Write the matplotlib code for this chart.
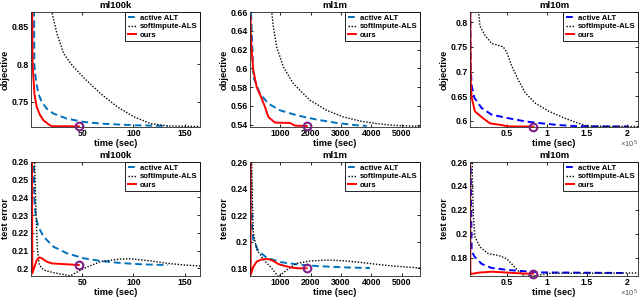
import matplotlib

matplotlib.use("Agg")

import matplotlib.pyplot as plt
from matplotlib.ticker import FuncFormatter

# ---- ml100k objective
ml100k_obj_t_alt = [2.9, 3.3, 5.0, 7.2, 10.5, 15.4, 22, 35.1, 51.5, 67.9, 100.7, 133.5]
ml100k_obj_alt = [0.90, 0.799, 0.777, 0.761, 0.750, 0.741, 0.7345, 0.7278, 0.7234, 0.7212, 0.719, 0.7181]
ml100k_obj_t_soft = [19, 20.3, 25.3, 31.8, 40, 51.5, 68, 84.3, 100.7, 117, 133.5, 166]
ml100k_obj_soft = [0.88, 0.87, 0.841, 0.8145, 0.799, 0.7823, 0.761, 0.7434, 0.7301, 0.7212, 0.7181, 0.7172]
ml100k_obj_t_ours = [0.98, 1.64, 3.3, 5.6, 8.9, 12.2, 17.1, 20.3, 46.6]
ml100k_obj_ours = [0.90, 0.799, 0.761, 0.7434, 0.7323, 0.7256, 0.7203, 0.7177, 0.7176]

# ---- ml1m objective
ml1m_obj_t_alt = [22, 110, 329, 604, 988, 1537, 2196, 2855, 3514, 3844]
ml1m_obj_alt = [0.67, 0.5907, 0.5729, 0.5623, 0.5552, 0.5499, 0.5453, 0.5417, 0.5392, 0.5385]
ml1m_obj_t_soft = [700, 769, 879, 1098, 1427, 1977, 2526, 3075, 3624, 4173, 4722, 5600]
ml1m_obj_soft = [0.665, 0.644, 0.6227, 0.6014, 0.5836, 0.5659, 0.5552, 0.5481, 0.5438, 0.541, 0.5392, 0.5381]
ml1m_obj_t_ours = [20, 22, 55, 110, 220, 385, 494, 604, 823, 1318, 1482, 1867]
ml1m_obj_ours = [0.655, 0.637, 0.619, 0.5977, 0.580, 0.5677, 0.5588, 0.5481, 0.5421, 0.5417, 0.5388, 0.5385]

# ---- ml10m objective
ml10m_obj_t_alt = [4000, 4800, 6100, 9400, 18600, 31100, 52000, 73000, 93600, 115000, 135000, 156000, 202000]
ml10m_obj_alt = [0.90, 0.709, 0.671, 0.647, 0.626, 0.6125, 0.6054, 0.599, 0.595, 0.5915, 0.5895, 0.5888, 0.5885]
ml10m_obj_t_soft = [13000, 16500, 22500, 31000, 39400, 45600, 50000, 56000, 65000, 73000, 85500,
                    102000, 123000, 140000, 150000, 214000]
ml10m_obj_soft = [0.85, 0.792, 0.774, 0.757, 0.753, 0.750, 0.739, 0.712, 0.681, 0.657, 0.636,
                  0.620, 0.605, 0.595, 0.5895, 0.5885]
ml10m_obj_t_ours = [4000, 5000, 6100, 10250, 20600, 29000, 43600, 52000, 83000]
ml10m_obj_ours = [0.90, 0.675, 0.647, 0.619, 0.605, 0.595, 0.5915, 0.5888, 0.5885]

# ---- ml100k test error
ml100k_err_t_alt = [2.3, 3.3, 4.6, 7.2, 12.2, 22, 35.1, 51.5, 67.9, 84.3, 100.7, 117, 133.5]
ml100k_err_alt = [0.27, 0.2389, 0.2292, 0.2235, 0.2179, 0.2122, 0.2085, 0.2057, 0.2042, 0.2032, 0.2025, 0.2021, 0.2019]
ml100k_err_t_soft = [3.0, 5.0, 6.3, 8.2, 12.2, 22, 38.4, 51.5, 67.9, 84.3, 95.7, 117, 133.5, 150, 166]
ml100k_err_soft = [0.27, 0.2292, 0.2104, 0.2019, 0.1991, 0.1976, 0.1958, 0.200, 0.2038, 0.2051, 0.2055,
                   0.2042, 0.2028, 0.2019, 0.2013]
ml100k_err_t_ours = [0.98, 1.3, 5.6, 8.2, 10.5, 15.4, 20.3, 35.1, 46.6]
ml100k_err_ours = [0.27, 0.1972, 0.2047, 0.2062, 0.2057, 0.2038, 0.2028, 0.2023, 0.2019]

# ---- ml1m test error
ml1m_err_t_alt = [33, 44, 66, 110, 275, 549, 988, 1537, 2196, 3075, 3953]
ml1m_err_alt = [0.27, 0.2317, 0.2117, 0.2017, 0.193, 0.188, 0.1847, 0.183, 0.1817, 0.1807, 0.1802]
ml1m_err_t_soft = [50, 77, 110, 220, 440, 714, 933, 1208, 1537, 1977, 2526, 3075, 3624, 4173, 4722, 5600]
ml1m_err_soft = [0.27, 0.2317, 0.2067, 0.1942, 0.1867, 0.180, 0.1737, 0.1787, 0.1837, 0.1855, 0.1862,
                 0.1857, 0.1845, 0.183, 0.1817, 0.1802]
ml1m_err_t_ours = [20, 22, 110, 220, 385, 604, 769, 933, 1153, 1373, 1592, 1867]
ml1m_err_ours = [0.27, 0.175, 0.1812, 0.1850, 0.1867, 0.1870, 0.1855, 0.1832, 0.1817, 0.1805, 0.180, 0.180]

# ---- ml10m test error
ml10m_err_t_alt = [4000, 6100, 9400, 18600, 31000, 52000, 73000, 93600, 200000]
ml10m_err_alt = [0.30, 0.1861, 0.1811, 0.1749, 0.1715, 0.1698, 0.1687, 0.1678, 0.1673]
ml10m_err_t_soft = [6000, 7100, 8200, 10250, 16500, 27000, 39400, 50000, 58000, 66000, 73000, 85000, 102000, 214000]
ml10m_err_soft = [0.30, 0.2423, 0.2143, 0.1974, 0.189, 0.1834, 0.182, 0.1792, 0.1736, 0.1679, 0.1645,
                  0.1650, 0.167, 0.1673]
ml10m_err_t_ours = [4000, 4500, 5000, 8200, 14500, 31000, 52000, 72500, 83000]
ml10m_err_ours = [0.30, 0.168, 0.1665, 0.1668, 0.1676, 0.1684, 0.1676, 0.1668, 0.1668]

LABELS = ["active ALT", "softImpute-ALS", "ours"]
MATLAB_BLUE = "#0072BD"
PURPLE = "#7E1E86"

plt.rcParams["font.family"] = ["Liberation Sans", "DejaVu Sans"]
plt.rcParams["font.weight"] = "bold"
plt.rcParams["axes.labelweight"] = "bold"
plt.rcParams["axes.titleweight"] = "bold"
plt.rcParams["mathtext.default"] = "regular"

W, H = 640, 299
fig = plt.figure(figsize=(W / 100, H / 100), dpi=100)


def _axes(left, top, right, bottom):
    return fig.add_axes([left / W, 1 - bottom / H, (right - left) / W, (bottom - top) / H])


def _fmt(x, _pos):
    return f"{x:g}"


def _draw(ax, series, alt_color, title, ylabel, xlim, ylim, xticks, yticks, scale=1.0):
    (t_alt, v_alt), (t_soft, v_soft), (t_ours, v_ours) = series
    ax.plot(t_alt, v_alt, color=alt_color, lw=1.4, dashes=(3.5, 2.0), label=LABELS[0])
    ax.plot(t_soft, v_soft, color="black", lw=1.0, ls=(0, (1, 1.2)), label=LABELS[1])
    ax.plot(t_ours, v_ours, color="red", lw=1.4, label=LABELS[2])
    ax.plot(t_ours[-1], v_ours[-1], "o", mfc="none", mec=PURPLE, ms=5.5, mew=1.5, clip_on=False, zorder=5)
    ax.set_xlim(*xlim)
    ax.set_ylim(*ylim)
    ax.set_xticks(xticks)
    ax.set_yticks(yticks)
    ax.xaxis.set_major_formatter(FuncFormatter(lambda x, p: f"{x / scale:g}"))
    ax.yaxis.set_major_formatter(FuncFormatter(_fmt))
    ax.tick_params(direction="in", length=2.5, width=0.6, top=True, right=True, labelsize=6.3, pad=1.5)
    for sp in ax.spines.values():
        sp.set_linewidth(0.6)
        sp.set_color("#262626")
    ax.set_title(title, fontsize=6.8, pad=3)
    ax.set_xlabel("time (sec)", fontsize=6.7, labelpad=0.5)
    ax.set_ylabel(ylabel, fontsize=6.7, labelpad=1.5)
    leg = ax.legend(loc="upper right", borderaxespad=0, fontsize=5.6, fancybox=False, framealpha=1,
                    edgecolor="black", handlelength=1.1, handletextpad=0.5, labelspacing=0.15,
                    borderpad=0.3)
    leg.get_frame().set_linewidth(0.6)
    if scale != 1.0:
        ax.text(1.0, -0.1, r"$\times10^{5}$", transform=ax.transAxes, ha="right", va="top",
                fontsize=5.5, color="#555555", fontweight="normal")


cols = [(31, 200), (250, 420), (470, 638)]
rows = [(12, 127), (162, 276)]

ax = _axes(cols[0][0], rows[0][0], cols[0][1], rows[0][1])
_draw(ax, [(ml100k_obj_t_alt, ml100k_obj_alt), (ml100k_obj_t_soft, ml100k_obj_soft),
           (ml100k_obj_t_ours, ml100k_obj_ours)], MATLAB_BLUE, "ml100k", "objective",
      (0, 165), (0.7167, 0.8696), [50, 100, 150], [0.75, 0.8, 0.85])

ax = _axes(cols[1][0], rows[0][0], cols[1][1], rows[0][1])
_draw(ax, [(ml1m_obj_t_alt, ml1m_obj_alt), (ml1m_obj_t_soft, ml1m_obj_soft),
           (ml1m_obj_t_ours, ml1m_obj_ours)], MATLAB_BLUE, "ml1m", "objective",
      (0, 5600), (0.5374, 0.66), [1000, 2000, 3000, 4000, 5000], [0.54, 0.56, 0.58, 0.6, 0.62, 0.64, 0.66])

ax = _axes(cols[2][0], rows[0][0], cols[2][1], rows[0][1])
_draw(ax, [(ml10m_obj_t_alt, ml10m_obj_alt), (ml10m_obj_t_soft, ml10m_obj_soft),
           (ml10m_obj_t_ours, ml10m_obj_ours)], "blue", "ml10m", "objective",
      (4000, 214000), (0.5876, 0.8207), [50000, 100000, 150000, 200000], [0.6, 0.65, 0.7, 0.75, 0.8],
      scale=1e5)

ax = _axes(cols[0][0], rows[1][0], cols[0][1], rows[1][1])
_draw(ax, [(ml100k_err_t_alt, ml100k_err_alt), (ml100k_err_t_soft, ml100k_err_soft),
           (ml100k_err_t_ours, ml100k_err_ours)], MATLAB_BLUE, "ml100k", "test error",
      (0, 165), (0.1957, 0.26), [50, 100, 150], [0.2, 0.21, 0.22, 0.23, 0.24, 0.25, 0.26])

ax = _axes(cols[1][0], rows[1][0], cols[1][1], rows[1][1])
_draw(ax, [(ml1m_err_t_alt, ml1m_err_alt), (ml1m_err_t_soft, ml1m_err_soft),
           (ml1m_err_t_ours, ml1m_err_ours)], MATLAB_BLUE, "ml1m", "test error",
      (0, 5600), (0.1742, 0.26), [1000, 2000, 3000, 4000, 5000], [0.18, 0.2, 0.22, 0.24, 0.26])

ax = _axes(cols[2][0], rows[1][0], cols[2][1], rows[1][1])
_draw(ax, [(ml10m_err_t_alt, ml10m_err_alt), (ml10m_err_t_soft, ml10m_err_soft),
           (ml10m_err_t_ours, ml10m_err_ours)], "blue", "ml10m", "test error",
      (4000, 214000), (0.1648, 0.26), [50000, 100000, 150000, 200000], [0.18, 0.2, 0.22, 0.24, 0.26],
      scale=1e5)

fig.savefig("out.png", dpi=100)
